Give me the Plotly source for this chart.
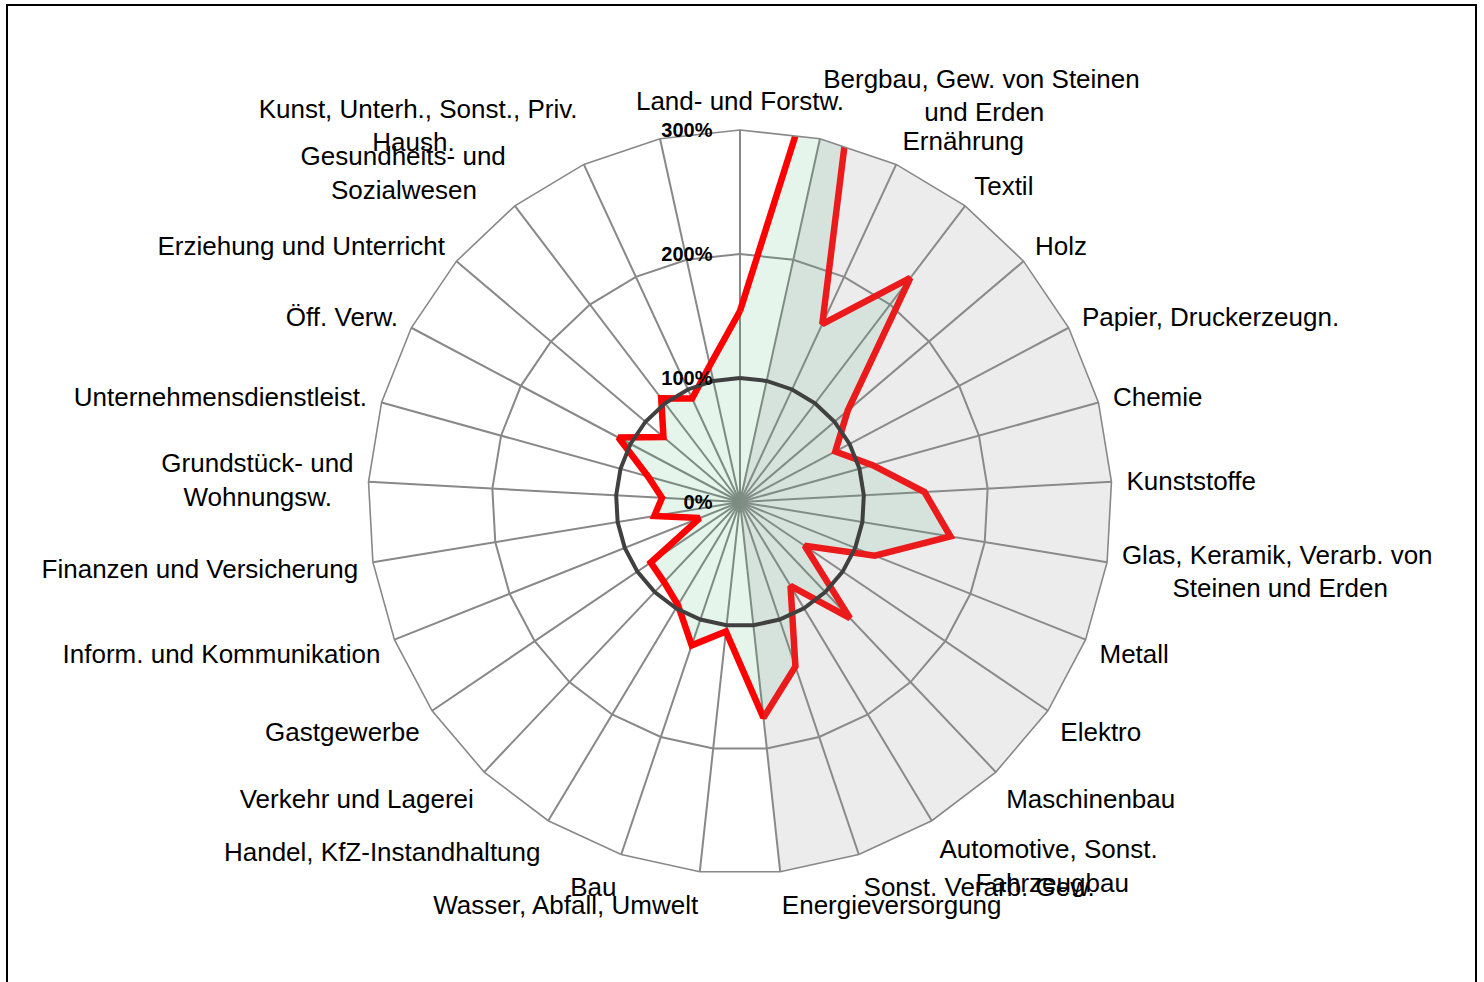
import plotly.graph_objects as go

NB = "\u00a0"

# ---------------- data ----------------
categories = [
    "Land- und Forstw.",
    "Bergbau, Gew. von Steinen<br>" + NB * 14 + "und Erden",
    "Ernährung",
    "Textil",
    "Holz",
    "Papier, Druckerzeugn.",
    "Chemie",
    "Kunststoffe",
    "Glas, Keramik, Verarb. von<br>" + NB * 7 + "Steinen und Erden",
    "Metall",
    "Elektro",
    "Maschinenbau",
    "Automotive, Sonst.<br>" + NB * 5 + "Fahrzeugbau",
    "Sonst. Verarb. Gew.",
    "Energieversorgung",
    "Wasser, Abfall, Umwelt",
    "Bau",
    "Handel, KfZ-Instandhaltung",
    "Verkehr und Lagerei",
    "Gastgewerbe",
    "Inform. und Kommunikation",
    "Finanzen und Versicherung",
    "Grundstück- und<br>Wohnungsw." + NB * 3,
    "Unternehmensdienstleist.",
    "Öff. Verw.",
    "Erziehung und Unterricht",
    "Gesundheits- und<br>Sozialwesen" + NB * 4,
    "Kunst, Unterh., Sonst., Priv.<br>Haush." + NB * 17,
    NB,
]

# series values in percent
values = [154, 520, 158, 227, 114, 87, 111, 149, 172, 117, 63, 129, 79, 140, 175,
          105, 122, 97, 89, 87, 35, 70, 63, 77, 111, 81, 105, 92, 113]

# highlighted sector (manufacturing) drawn as a filled series
manufacturing = [0, 300, 300, 300, 300, 300, 300, 300, 300, 300, 300, 300, 300, 300, 300,
                 0, 0, 0, 0, 0, 0, 0, 0, 0, 0, 0, 0, 0, 0]

# reference line at 100 %
reference = [100, 100, 100, 100, 100, 100, 100, 100, 100, 100, 100, 100, 100, 100, 100,
             100, 100, 100, 100, 100, 100, 100, 100, 100, 100, 100, 100, 100, 100]

radial_ticks = [0, 100, 200, 300]
radial_ticktext = ["0%", "100%", "200%", "300%"]

# ---------------- figure ----------------
W, H = 1484, 982
FONT = "Liberation Sans, Arial, sans-serif"

def closed(seq):
    return list(seq) + [seq[0]]

fig = go.Figure()

fig.add_trace(go.Scatterpolar(
    r=closed(values), theta=closed(categories),
    mode="lines", fill="toself",
    fillcolor="rgba(38,172,97,0.12)",
    line=dict(color="#FF0000", width=6.5),
    hoverinfo="skip", showlegend=False,
))

fig.add_trace(go.Scatterpolar(
    r=closed(manufacturing), theta=closed(categories),
    mode="lines", fill="toself",
    fillcolor="rgba(152,152,152,0.18)",
    line=dict(color="rgba(0,0,0,0)", width=0),
    hoverinfo="skip", showlegend=False,
))

fig.add_trace(go.Scatterpolar(
    r=closed(reference), theta=closed(categories),
    mode="lines",
    line=dict(color="#404040", width=4),
    hoverinfo="skip", showlegend=False,
))

cx, cy, R = 740, 502, 372
fig.update_layout(
    width=W, height=H,
    margin=dict(l=0, r=0, t=0, b=0),
    paper_bgcolor="white",
    font=dict(family=FONT, color="black"),
    polar=dict(
        domain=dict(x=[(cx - R) / W, (cx + R) / W],
                    y=[(H - cy - R) / H, (H - cy + R) / H]),
        bgcolor="white",
        gridshape="linear",
        angularaxis=dict(
            type="category",
            categoryorder="array", categoryarray=categories,
            rotation=90, direction="clockwise",
            showline=True, linecolor="#888888", linewidth=1.6,
            showgrid=True, gridcolor="#888888", gridwidth=1.5,
            ticks="outside", ticklen=9, tickcolor="rgba(0,0,0,0)",
            tickfont=dict(size=26, family=FONT, color="black"),
        ),
        radialaxis=dict(
            range=[0, 300], angle=90, side="counterclockwise",
            tickmode="array", tickvals=radial_ticks, ticktext=radial_ticktext,
            tickfont=dict(size=20, family=FONT, color="black", weight="bold"),
            tickangle=90,
            showline=False,
            ticks="outside", ticklen=20, tickcolor="rgba(0,0,0,0)",
            showgrid=True, gridcolor="#888888", gridwidth=1.5,
        ),
    ),
    shapes=[dict(type="rect", xref="paper", yref="paper",
                 x0=7 / W, x1=1476 / W, y0=-0.05, y1=1 - 5 / H,
                 line=dict(color="black", width=2), fillcolor="rgba(0,0,0,0)")],
)

fig.write_html("out.html", config={"displayModeBar": False},
               post_script="document.body.style.margin='0';")
